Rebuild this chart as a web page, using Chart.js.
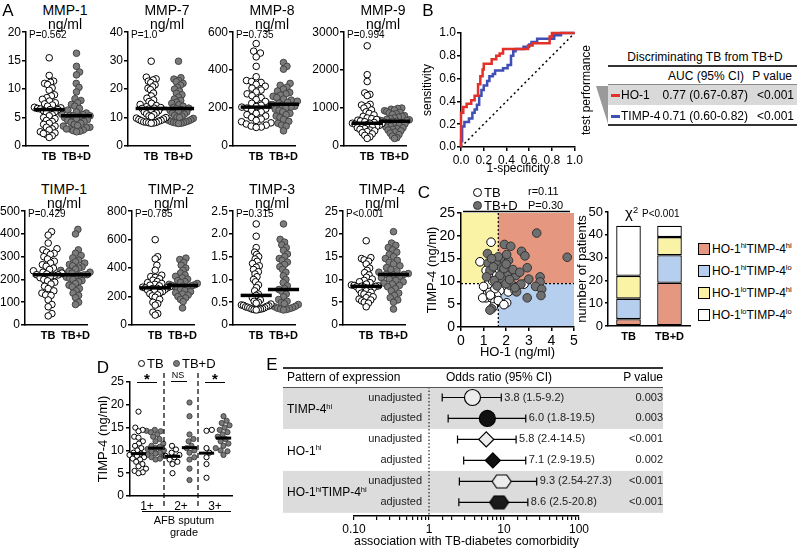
<!DOCTYPE html>
<html>
<head>
<meta charset="utf-8">
<script src="https://cdn.jsdelivr.net/npm/chart.js@4.4.1/dist/chart.umd.min.js"></script>
<style>
  html, body { margin: 0; padding: 0; background: #fff; }
  #page { position: relative; width: 797px; height: 549px; overflow: hidden;
          font-family: "Liberation Sans", Arial, Helvetica, sans-serif; color: #000; }
  #page canvas { position: absolute; z-index: 1; }
  .t { position: absolute; z-index: 2; white-space: nowrap; line-height: 1; }
  .bx { position: absolute; z-index: 2; box-sizing: border-box; }
  .sp { font-size: 0.62em; position: relative; top: -0.55em; }
</style>
</head>
<body>
<div id="page"></div>
<script>
// ---------- panel A: serum markers ----------
const aTitles = ['MMP-1', 'MMP-7', 'MMP-8', 'MMP-9', 'TIMP-1', 'TIMP-2', 'TIMP-3', 'TIMP-4'];
const aPvals = ['P=0.562', 'P=1.0', 'P=0.735', 'P=0.994', 'P=0.429', 'P=0.785', 'P=0.315', 'P<0.001'];
const aMax = [20, 40, 600, 3000, 500, 800, 2.5, 25];
const aStep = [5, 10, 200, 1000, 100, 200, 0.5, 5];
const aGroups = ['TB', 'TB+D'];
const aTB = [
  [15.5, 12.4, 11.4, 11.2, 11.0, 10.8, 10.2, 9.8, 9.0, 8.8, 8.5, 8.2, 7.9, 7.6, 7.4, 7.2, 7.0, 6.8, 6.7, 6.6, 6.5, 6.4, 6.4, 6.2, 6.0, 5.8, 5.5, 5.3, 5.0, 4.8, 4.5, 4.3, 4.0, 3.8, 3.5, 3.3, 3.0, 2.8, 2.5, 2.3, 2.0, 1.8, 1.5, 2.2],
  [29.8, 24.2, 23.6, 23.2, 22.8, 22.3, 21.5, 20.8, 20.3, 19.8, 18.6, 17.6, 16.8, 16.2, 15.6, 15.0, 14.6, 14.2, 13.8, 13.5, 13.3, 13.2, 13.0, 12.7, 12.4, 12.0, 11.6, 11.3, 11.0, 10.6, 10.3, 10.0, 9.8, 9.5, 9.3, 9.0, 8.9, 8.7, 8.5, 8.4, 8.3, 8.2, 8.1, 8.0],
  [540, 500, 490, 470, 420, 365, 345, 340, 335, 325, 315, 305, 295, 285, 275, 265, 255, 245, 235, 225, 215, 208, 205, 200, 195, 188, 180, 172, 165, 158, 150, 142, 135, 128, 122, 116, 110, 105, 100, 98],
  [2640, 1880, 1700, 1400, 1360, 1330, 1100, 1080, 1050, 1000, 950, 900, 860, 820, 780, 740, 720, 700, 680, 660, 640, 620, 600, 600, 590, 575, 560, 545, 530, 515, 500, 480, 460, 440, 420, 400, 380, 350, 320, 280, 240, 200],
  [410, 395, 360, 335, 330, 320, 315, 310, 300, 290, 280, 272, 265, 258, 250, 244, 238, 232, 228, 224, 221, 220, 218, 214, 208, 200, 194, 188, 180, 170, 160, 150, 140, 132, 130, 110, 90, 80, 50, 40],
  [600, 480, 465, 420, 385, 350, 340, 335, 325, 315, 305, 298, 292, 286, 280, 275, 270, 266, 262, 260, 258, 255, 250, 245, 240, 235, 228, 220, 212, 205, 195, 180, 160, 150, 140, 90, 80, 70],
  [2.22, 1.95, 1.7, 1.6, 1.55, 1.5, 1.45, 1.4, 1.35, 1.3, 1.27, 1.22, 1.17, 1.12, 1.06, 1.0, 0.95, 0.88, 0.82, 0.75, 0.68, 0.65, 0.6, 0.55, 0.52, 0.5, 0.48, 0.46, 0.44, 0.43, 0.42, 0.41, 0.4, 0.39, 0.38, 0.37, 0.36, 0.35, 0.35, 0.34, 0.34, 0.33],
  [18.5, 14.8, 14.6, 14.3, 14.0, 13.4, 12.5, 12.0, 11.5, 11.0, 10.5, 10.1, 9.8, 9.5, 9.3, 9.0, 8.8, 8.7, 8.6, 8.5, 8.5, 8.4, 8.3, 8.1, 8.0, 7.8, 7.5, 7.2, 7.0, 6.8, 6.5, 6.2, 6.0, 5.7, 5.5, 5.3, 5.0, 4.8, 4.0]
];
const aTBD = [
  [16.3, 14.0, 13.0, 12.5, 11.0, 10.3, 9.5, 8.3, 8.0, 7.6, 7.3, 7.0, 6.6, 6.3, 6.0, 5.8, 5.6, 5.5, 5.4, 5.3, 5.3, 5.2, 5.0, 4.8, 4.6, 4.5, 4.3, 4.2, 4.0, 3.8, 3.6, 3.5, 3.3, 3.2, 3.0, 3.0, 2.8, 2.7, 2.6, 2.5],
  [29.8, 24.0, 23.5, 23.0, 22.6, 22.0, 21.4, 20.6, 20.0, 19.3, 18.5, 18.0, 17.2, 16.5, 16.0, 15.4, 15.0, 14.5, 14.0, 13.6, 13.3, 13.1, 12.8, 12.5, 12.2, 11.9, 11.5, 11.2, 10.8, 10.5, 10.2, 10.0, 9.7, 9.4, 9.2, 9.0, 8.8, 8.6, 8.5, 8.3, 8.2, 8.1, 8.0, 7.9],
  [440, 420, 405, 330, 320, 310, 300, 290, 282, 275, 268, 262, 255, 248, 242, 236, 230, 225, 220, 218, 215, 210, 205, 200, 194, 188, 180, 172, 165, 158, 150, 140, 130, 120, 110, 105, 80],
  [1000, 990, 970, 950, 930, 910, 890, 870, 850, 830, 800, 780, 760, 740, 720, 700, 690, 680, 670, 660, 650, 640, 630, 620, 600, 580, 560, 540, 520, 500, 480, 460, 440, 420, 400, 370, 340, 300, 260, 220, 200],
  [420, 400, 330, 315, 305, 295, 285, 278, 272, 266, 260, 255, 250, 245, 240, 236, 232, 228, 224, 221, 220, 218, 215, 210, 205, 200, 195, 190, 182, 175, 168, 160, 150, 140, 130, 120, 100, 90],
  [470, 460, 440, 420, 400, 385, 365, 352, 342, 332, 322, 312, 305, 298, 292, 286, 282, 278, 276, 274, 270, 265, 258, 250, 242, 234, 226, 218, 210, 200, 190, 180, 165, 120],
  [2.22, 1.88, 1.82, 1.76, 1.7, 1.64, 1.56, 1.5, 1.46, 1.42, 1.38, 1.33, 1.28, 1.22, 1.16, 1.08, 1.0, 0.93, 0.86, 0.8, 0.78, 0.74, 0.68, 0.62, 0.56, 0.52, 0.49, 0.47, 0.45, 0.43, 0.41, 0.4, 0.38, 0.37, 0.36, 0.35, 0.34, 0.33],
  [20.5, 18.0, 17.5, 17.0, 16.5, 16.0, 15.5, 15.0, 14.6, 14.2, 13.8, 13.4, 13.0, 12.6, 12.2, 11.9, 11.6, 11.3, 11.1, 11.1, 11.0, 10.7, 10.4, 10.1, 9.8, 9.5, 9.2, 9.0, 8.7, 8.4, 8.0, 7.5, 7.0, 6.5, 6.0, 5.5, 5.0, 3.5]
];
const aMedTB = [6.4, 13.2, 205, 600, 221, 261, 0.65, 8.5];
const aMedTBD = [5.3, 13.2, 220, 650, 221, 278, 0.78, 11.1];

// ---------- panel B: ROC ----------
const rocHo1Fpr = [0, 0, 0.02, 0.05, 0.09, 0.12, 0.15, 0.17, 0.19, 0.2, 0.27, 0.31, 0.34, 0.37, 0.59, 0.63, 0.78, 0.8, 0.94, 1];
const rocHo1Tpr = [0, 0.2, 0.3, 0.35, 0.38, 0.41, 0.45, 0.55, 0.62, 0.68, 0.73, 0.77, 0.8, 0.82, 0.86, 0.89, 0.91, 0.97, 1.0, 1.0];
const rocTimp4Fpr = [0, 0.01, 0.03, 0.07, 0.1, 0.12, 0.14, 0.16, 0.18, 0.2, 0.23, 0.25, 0.28, 0.3, 0.37, 0.41, 0.44, 0.46, 0.48, 0.55, 0.6, 0.62, 0.67, 0.82, 0.88, 0.96, 1];
const rocTimp4Tpr = [0, 0.05, 0.18, 0.22, 0.25, 0.3, 0.33, 0.37, 0.45, 0.5, 0.54, 0.58, 0.62, 0.64, 0.67, 0.69, 0.72, 0.8, 0.84, 0.86, 0.88, 0.9, 0.92, 0.95, 0.98, 1.0, 1.0];
const rocMarkers = ['HO-1', 'TIMP-4'];
const rocAuc = ['0.77 (0.67-0.87)', '0.71 (0.60-0.82)'];
const rocP = ['<0.001', '<0.001'];

// ---------- panel C: HO-1 vs TIMP-4 ----------
const cHo1Cut = 1.65;
const cTimp4Cut = 9.5;
const cTbHo1 = [0.84, 1.33, 1.43, 1.72, 1.28, 1.25, 1.36, 1.18, 1.28, 1.25, 1.5, 1.36, 1.13, 1.8, 1.95, 2.17, 2.46, 2.09, 1.72, 1.58, 1.11, 1.36, 1.5, 2.02, 2.79, 2.39, 1.43, 1.17, 0.96, 1.65, 1.28, 1.87, 1.58, 1.11, 1.5, 1.72, 1.5, 1.2, 1.9, 1.4, 1.6, 1.3, 2.2, 1.0];
const cTbTimp4 = [14.3, 18.6, 14.9, 14.8, 13.9, 13.2, 12.1, 11.3, 10.6, 9.9, 9.5, 8.4, 8.4, 9.1, 8.8, 8.4, 8.8, 7.7, 8.0, 6.9, 6.4, 6.4, 5.5, 5.3, 9.4, 8.0, 4.4, 7.3, 6.4, 5.8, 7.7, 10.2, 11.3, 12.4, 13.5, 12.4, 8.4, 9.4, 4.9, 10.1, 10.4, 7.0, 9.6, 8.9];
const cTbdHo1 = [4.7, 3.35, 1.92, 2.2, 2.68, 2.83, 2.93, 3.5, 3.5, 3.3, 3.57, 3.54, 2.93, 2.65, 2.46, 2.43, 2.05, 1.87, 2.1, 1.72, 1.55, 1.17, 1.2, 1.28, 1.36, 1.28, 2.17, 1.8, 1.43, 1.65, 2.02, 1.72, 1.13, 2.39, 1.99, 1.47, 2.3, 1.9, 2.6, 1.6, 2.0, 2.15, 1.35, 3.0];
const cTbdTimp4 = [15.3, 20.6, 18.1, 17.7, 16.6, 15.6, 13.0, 11.0, 9.9, 8.9, 8.3, 6.9, 6.4, 9.4, 7.7, 11.3, 11.3, 14.6, 14.6, 13.3, 14.3, 16.1, 14.0, 12.4, 4.0, 3.7, 9.1, 10.6, 13.2, 15.4, 15.9, 11.3, 11.0, 8.6, 9.5, 10.2, 12.6, 12.8, 12.0, 9.0, 13.8, 10.4, 15.0, 10.5];
const cBarGroups = ['TB', 'TB+D'];
const cBarHo1 = ['hi', 'hi', 'lo', 'lo'];
const cBarTimp4 = ['hi', 'lo', 'hi', 'lo'];
const cBarCounts = [[3, 19], [9, 12], [10, 8], [22, 5]];
const cBarColors = ['#e5977f', '#b7cfee', '#faf3a6', '#ffffff'];

// ---------- panel D: TIMP-4 by sputum grade ----------
const dGrades = ['1+', '2+', '3+'];
const dTB = [
  [18.5, 15, 14.5, 14.2, 13, 12.8, 12, 11.5, 11, 10.5, 10, 9.5, 9.3, 9, 8.8, 8.5, 8.2, 8, 7.5, 7, 6.5, 6, 5.5, 5.2, 5],
  [11, 10.2, 9.5, 9, 8.8, 8.5, 8, 7.5, 7, 5],
  [14.5, 14.3, 10.5, 9.5, 8.5, 7, 4]
];
const dTBD = [
  [14.5, 14.3, 14.2, 14, 13.5, 13, 12.5, 12, 11.5, 11, 10.8, 10.5, 10.3, 10, 9.8, 9.5, 9.3, 9, 8.8, 8.5, 8.2, 8],
  [20.5, 17.5, 13.5, 12.5, 12, 11, 10.5, 10, 9.5, 8.5, 8, 6, 3.5],
  [17.5, 16.5, 16, 15.5, 15, 14.5, 14, 13.5, 13, 12.5, 12, 11.5, 11, 10.5, 10, 9.8, 9]
];
const dMedTB = [9.3, 8.7, 9.4];
const dMedTBD = [10.5, 10.6, 12.7];
const dSig = ['*', 'NS', '*'];

// ---------- panel E: odds ratios ----------
const eGroups = ['TIMP-4<span class="sp">hi</span>', 'HO-1<span class="sp">hi</span>', 'HO-1<span class="sp">hi</span>TIMP-4<span class="sp">hi</span>'];
const eModels = ['unadjusted', 'adjusted'];
const eOR = [3.8, 6.0, 5.8, 7.1, 9.3, 8.6];
const eLo = [1.5, 1.8, 2.4, 2.9, 2.54, 2.5];
const eHi = [9.2, 19.5, 14.5, 19.5, 27.3, 20.8];
const eP = ['0.003', '0.003', '<0.001', '0.002', '<0.001', '<0.001'];

// ---------- helpers ----------
const FONT = '"Liberation Sans", Arial, Helvetica, sans-serif';
Chart.defaults.font.family = FONT;
Chart.defaults.color = '#000';
Chart.defaults.animation = false;
Chart.defaults.events = [];
Chart.defaults.plugins.legend.display = false;
Chart.defaults.plugins.tooltip.enabled = false;

const page = document.getElementById('page');

function mkCanvas(x, y, w, h) {
  const c = document.createElement('canvas');
  c.width = w; c.height = h;
  c.style.left = x + 'px'; c.style.top = y + 'px';
  c.style.width = w + 'px'; c.style.height = h + 'px';
  page.appendChild(c);
  return c;
}

function txt(html, x, y, o = {}) {
  const d = document.createElement('div');
  d.className = 't';
  d.innerHTML = html;
  d.style.left = x + 'px';
  d.style.top = y + 'px';
  d.style.fontSize = (o.size || 12) + 'px';
  if (o.bold) d.style.fontWeight = 'bold';
  if (o.color) d.style.color = o.color;
  const ax = o.align === 'right' ? '-100%' : o.align === 'left' ? '0' : '-50%';
  d.style.transform = `translate(${ax}, -50%)` + (o.rot ? ' rotate(-90deg)' : '');
  page.appendChild(d);
  return d;
}

function box(x, y, w, h, css) {
  const d = document.createElement('div');
  d.className = 'bx';
  d.style.cssText += `left:${x}px;top:${y}px;width:${w}px;height:${h}px;` + (css || '');
  page.appendChild(d);
  return d;
}

// deterministic beeswarm offsets (in data units along x)
function swarm(vals, center, pxY, pxX, d, cap) {
  const order = vals.map((v, i) => i).sort((a, b) => vals[a] - vals[b]);
  const placed = [], offs = [];
  order.forEach(i => {
    const y = vals[i] * pxY;
    const near = placed.filter(p => Math.abs(p.y - y) < d);
    const cands = [0];
    near.forEach(p => {
      const dx = Math.sqrt(d * d - (p.y - y) ** 2);
      cands.push(p.x + dx, p.x - dx);
    });
    cands.sort((a, b) => Math.abs(a) - Math.abs(b));
    const x = cands.find(c => near.every(p => (p.x - c) ** 2 + (p.y - y) ** 2 >= d * d - 0.01));
    placed.push({x, y});
    offs[i] = x;
  });
  const m = Math.max(...offs.map(Math.abs));
  const k = m > cap ? cap / m : 1;
  return vals.map((v, i) => ({x: center + offs[i] * k / pxX, y: v}));
}

function medLine(m, c, w, lw) {
  return {data: [{x: c - w, y: m}, {x: c + w, y: m}], showLine: true, borderColor: '#000',
          borderWidth: lw, pointRadius: 0, order: 0, clip: false};
}

const blackGrid = {drawOnChartArea: false, tickLength: 4, color: '#000', lineWidth: 1.5};
const blackBorder = {color: '#000', width: 1.5};

// ---------- panel A ----------
function dotPlot(i, axisX, yTop) {
  const plotH = 114, plotW = 68, padTop = 8;
  const pxY = plotH / aMax[i], pxX = plotW / 2.3;
  const tb = swarm(aTB[i], 0, pxY, pxX, 6.6, 16);
  const tbd = swarm(aTBD[i], 1, pxY, pxX, 6.6, 16);
  const cv = mkCanvas(axisX - 36, yTop - padTop, 36 + plotW + 2, padTop + plotH + 22);
  new Chart(cv, {
    type: 'scatter',
    data: {datasets: [
      medLine(aMedTB[i], 0, 0.57, 3.5),
      medLine(aMedTBD[i], 1, 0.57, 3.5),
      {data: tb, pointRadius: 3.3, backgroundColor: '#fff', borderColor: '#000', borderWidth: 1, order: 1, clip: false},
      {data: tbd, pointRadius: 3.3, backgroundColor: '#7c7c7c', borderColor: '#444', borderWidth: 1, order: 1, clip: false}
    ]},
    options: {
      responsive: false,
      layout: {padding: {top: padTop, right: 2, left: 0, bottom: 0}},
      scales: {
        x: {type: 'linear', min: -0.85, max: 1.45,
            afterBuildTicks: s => { s.ticks = aGroups.map((g, k) => ({value: k})); },
            afterFit: s => { s.height = 22; },
            ticks: {callback: v => aGroups[v], font: {size: 11, weight: 'bold'}, padding: 4, autoSkip: false, maxRotation: 0},
            grid: {display: false, drawTicks: false},
            border: blackBorder},
        y: {min: 0, max: aMax[i],
            afterFit: s => { s.width = 36; },
            ticks: {stepSize: aStep[i], font: {size: 12}, padding: 1,
                    callback: v => aStep[i] < 1 ? (v === 0 ? '0' : v.toFixed(1)) : v},
            grid: blackGrid,
            border: blackBorder}
      }
    }
  });
  txt(aTitles[i], axisX + 39, yTop - 22, {size: 14});
  txt('ng/ml', axisX + 39, yTop - 8, {size: 14});
  txt(aPvals[i], axisX + 3, yTop + 3, {size: 10, align: 'left'});
}

[26, 128, 233, 344].forEach((x, k) => dotPlot(k, x, 32));
[25, 132, 233, 343].forEach((x, k) => dotPlot(k + 4, x, 211));

// ---------- panel B ----------
const xy = (xs, ys) => xs.map((x, i) => ({x, y: ys[i]}));
new Chart(mkCanvas(400, 20, 185, 160), {
  type: 'scatter',
  data: {datasets: [
    {data: xy(rocHo1Fpr, rocHo1Tpr), showLine: true, stepped: 'after', borderColor: '#e2302a', borderWidth: 2.5, pointRadius: 0, clip: false},
    {data: xy(rocTimp4Fpr, rocTimp4Tpr), showLine: true, stepped: 'after', borderColor: '#3f4fb4', borderWidth: 2.5, pointRadius: 0, clip: false},
    {data: [{x: 0, y: 0}, {x: 1, y: 1}], showLine: true, borderColor: '#000', borderWidth: 1.5, borderDash: [2, 3], pointRadius: 0}
  ]},
  options: {
    responsive: false,
    layout: {padding: {left: 16, top: 13, right: 8, bottom: 0}},
    scales: {
      x: {type: 'linear', min: 0, max: 1, afterFit: s => { s.height = 33; },
          ticks: {stepSize: 0.2, callback: v => v.toFixed(1), font: {size: 12}, padding: 2, autoSkip: false, maxRotation: 0},
          grid: blackGrid, border: blackBorder,
          title: {display: true, text: '1-specificity', font: {size: 12}, padding: {top: 2, bottom: 4}}},
      y: {min: 0, max: 1, afterFit: s => { s.width = 45; },
          ticks: {stepSize: 0.2, callback: v => v.toFixed(1), font: {size: 12}, padding: 1},
          grid: blackGrid, border: blackBorder,
          title: {display: true, text: 'sensitivity', font: {size: 12}, padding: {top: 4, bottom: 0}}}
    }
  }
});

txt('test performance', 586, 90, {size: 12, rot: true});
box(596, 86, 12, 38, 'background:#9a9a9a;clip-path:polygon(0 0,100% 0,100% 100%);');
txt('Discriminating TB from TB+D', 705, 57, {size: 12});
box(608, 65, 189, 1.5, 'background:#333;');
txt('AUC (95% CI)', 668, 76, {size: 12, align: 'left'});
txt('P value', 792, 76, {size: 12, align: 'right'});
box(608, 84, 189, 21, 'background:#d9d9d9;border-top:1px solid #8a8a8a;');
box(608, 124, 189, 1.5, 'background:#333;');
['#e2302a', '#3f4fb4'].forEach((col, k) => {
  const y = 95 + k * 21;
  box(611, y - 1.5, 9, 3, 'background:' + col + ';');
  txt(rocMarkers[k], 621, y, {size: 12, align: 'left'});
  txt(rocAuc[k], 748, y, {size: 12, align: 'right'});
  txt(rocP[k], 757, y, {size: 12, align: 'left'});
});

// ---------- panel C: scatter ----------
const quadPlugin = {
  id: 'quad',
  beforeDraw(chart) {
    const {ctx, chartArea: a, scales: {x, y}} = chart;
    const cx = x.getPixelForValue(cHo1Cut), cy = y.getPixelForValue(cTimp4Cut);
    ctx.save();
    ctx.fillStyle = cBarColors[2]; ctx.fillRect(a.left, a.top, cx - a.left, cy - a.top);
    ctx.fillStyle = cBarColors[0]; ctx.fillRect(cx, a.top, a.right - cx, cy - a.top);
    ctx.fillStyle = cBarColors[1]; ctx.fillRect(cx, cy, a.right - cx, a.bottom - cy);
    ctx.strokeStyle = '#000';
    ctx.setLineDash([2, 2]); ctx.lineWidth = 1.2;
    ctx.beginPath();
    ctx.moveTo(cx, a.top); ctx.lineTo(cx, a.bottom);
    ctx.moveTo(a.left, cy); ctx.lineTo(a.right, cy);
    ctx.stroke();
    ctx.setLineDash([]); ctx.lineWidth = 1.5;
    ctx.beginPath(); ctx.moveTo(a.left + 2, a.top - 1.5); ctx.lineTo(a.right - 4, a.top - 1.5); ctx.stroke();
    ctx.restore();
  }
};

new Chart(mkCanvas(405, 200, 175, 160), {
  type: 'scatter',
  data: {datasets: [
    {data: xy(cTbdHo1, cTbdTimp4), pointRadius: 4.3, backgroundColor: '#6f6f6f', borderColor: '#333', borderWidth: 1, clip: false},
    {data: xy(cTbHo1, cTbTimp4), pointRadius: 4.3, backgroundColor: '#fff', borderColor: '#000', borderWidth: 1, clip: false}
  ]},
  options: {
    responsive: false,
    layout: {padding: {left: 16, top: 13, right: 6, bottom: 0}},
    scales: {
      x: {type: 'linear', min: 0, max: 5, afterFit: s => { s.height = 33; },
          ticks: {stepSize: 1, font: {size: 14}, padding: 2, maxRotation: 0},
          grid: blackGrid, border: blackBorder,
          title: {display: true, text: 'HO-1 (ng/ml)', font: {size: 13}, padding: {top: 0, bottom: 0}}},
      y: {min: 0, max: 25, afterFit: s => { s.width = 40; },
          ticks: {stepSize: 5, font: {size: 14}, padding: 2},
          grid: blackGrid, border: blackBorder,
          title: {display: true, text: 'TIMP-4 (ng/ml)', font: {size: 13}, padding: {top: 4, bottom: 0}}}
    }
  },
  plugins: [quadPlugin]
});

function dot(cx, cy, r, fill, stroke) {
  box(cx - r, cy - r, 2 * r, 2 * r, `border:1px solid ${stroke};border-radius:50%;background:${fill};`);
}
dot(477, 192, 4.5, '#fff', '#000');
txt('TB', 484, 192, {size: 13, align: 'left'});
dot(477, 205, 4.5, '#6f6f6f', '#333');
txt('TB+D', 484, 205, {size: 13, align: 'left'});
txt('r=0.11', 528, 191, {size: 11, align: 'left'});
txt('P=0.30', 528, 205, {size: 11, align: 'left'});

// ---------- panel C: stacked bars ----------
new Chart(mkCanvas(570, 200, 125, 150), {
  type: 'bar',
  data: {
    labels: cBarGroups,
    datasets: cBarCounts.map((vals, k) => ({
      data: vals, backgroundColor: cBarColors[k], borderColor: '#000', borderWidth: 1.3,
      borderSkipped: false, barPercentage: 0.6, categoryPercentage: 1
    }))
  },
  options: {
    responsive: false,
    layout: {padding: {left: 1, top: 12, right: 5, bottom: 0}},
    scales: {
      x: {stacked: true, afterFit: s => { s.height = 24; },
          ticks: {font: {size: 11, weight: 'bold'}, padding: 4, maxRotation: 0},
          grid: {display: false, drawTicks: false}, border: blackBorder},
      y: {stacked: true, min: 0, max: 50, afterFit: s => { s.width = 37; },
          ticks: {stepSize: 10, font: {size: 13}, padding: 2},
          grid: {drawOnChartArea: false, tickLength: 3, color: '#000', lineWidth: 1.5}, border: blackBorder,
          title: {display: true, text: 'number of patients', font: {size: 13}, padding: {top: 4, bottom: 0}}}
    }
  }
});
txt('χ<span class="sp">2</span>', 625, 213, {size: 15, align: 'left'});
txt('P&lt;0.001', 642, 214, {size: 10, align: 'left'});
cBarColors.forEach((col, k) => {
  const y = 248.5 + k * 22;
  box(698, y - 6, 12, 12, `background:${col};border:1.3px solid #000;`);
  txt(`HO-1<span class="sp">${cBarHo1[k]}</span>TIMP-4<span class="sp">${cBarTimp4[k]}</span>`, 712, y, {size: 12, align: 'left'});
});

// ---------- panel D ----------
const sepPlugin = {
  id: 'sep',
  afterDraw(chart) {
    const {ctx, chartArea: a, scales: {x}} = chart;
    ctx.save();
    ctx.strokeStyle = '#000'; ctx.lineWidth = 1.2; ctx.setLineDash([5, 3]);
    [2, 4].forEach(v => {
      const px = x.getPixelForValue(v);
      ctx.beginPath(); ctx.moveTo(px, a.top - 9); ctx.lineTo(px, a.bottom + 11); ctx.stroke();
    });
    ctx.restore();
  }
};
{
  const pxY = 114 / 25, pxX = 102 / 6;
  const tbPts = [], tbdPts = [], meds = [];
  dGrades.forEach((g, k) => {
    tbPts.push(...swarm(dTB[k], 2 * k + 0.5, pxY, pxX, 5.4, 9));
    tbdPts.push(...swarm(dTBD[k], 2 * k + 1.5, pxY, pxX, 5.4, 9));
    meds.push(medLine(dMedTB[k], 2 * k + 0.5, 0.45, 3), medLine(dMedTBD[k], 2 * k + 1.5, 0.45, 3));
  });
  new Chart(mkCanvas(95, 360, 145, 155), {
    type: 'scatter',
    data: {datasets: [
      ...meds,
      {data: tbPts, pointRadius: 2.6, backgroundColor: '#fff', borderColor: '#000', borderWidth: 1, order: 1, clip: false},
      {data: tbdPts, pointRadius: 2.6, backgroundColor: '#7a7a7a', borderColor: '#444', borderWidth: 1, order: 1, clip: false}
    ]},
    options: {
      responsive: false,
      layout: {padding: {left: 0, top: 22, right: 8, bottom: 0}},
      scales: {
        x: {type: 'linear', min: 0, max: 6,
            afterBuildTicks: s => { s.ticks = dGrades.map((g, k) => ({value: 2 * k + 1})); },
            afterFit: s => { s.height = 19; },
            ticks: {callback: v => dGrades[(v - 1) / 2], font: {size: 12}, padding: 3, autoSkip: false, maxRotation: 0},
            grid: {display: false, drawTicks: false}, border: blackBorder},
        y: {min: 0, max: 25, afterFit: s => { s.width = 35; },
            ticks: {stepSize: 5, font: {size: 12}, padding: 2},
            grid: blackGrid, border: blackBorder,
            title: {display: true, text: 'TIMP-4 (ng/ml)', font: {size: 13}, padding: {top: 1, bottom: 0}}}
      }
    },
    plugins: [sepPlugin]
  });
  dSig.forEach((s, k) => {
    const cx = 130 + (2 * k + 1) * pxX;
    if (s === '*') {
      txt('*', cx, 378, {size: 15, bold: true});
      box(cx - 10, 382, 20, 1.3, 'background:#000;');
    } else {
      txt(s, cx - 3, 375, {size: 9});
      box(cx - 10, 381, 16, 1.3, 'background:#000;');
    }
  });
}
dot(141, 363, 3.5, '#fff', '#000');
txt('TB', 147, 363, {size: 13, align: 'left'});
dot(176, 363, 3.5, '#7a7a7a', '#444');
txt('TB+D', 182, 363, {size: 13, align: 'left'});
box(142, 511, 89, 1.3, 'background:#000;');
txt('AFB sputum', 184, 520, {size: 11});
txt('grade', 184, 532, {size: 11});

// ---------- panel E ----------
function hexagon(fill) {
  const c = document.createElement('canvas');
  c.width = 21; c.height = 15;
  const g = c.getContext('2d');
  g.beginPath();
  g.moveTo(1, 7.5); g.lineTo(5.5, 1); g.lineTo(15.5, 1); g.lineTo(20, 7.5); g.lineTo(15.5, 14); g.lineTo(5.5, 14);
  g.closePath();
  g.fillStyle = fill; g.fill();
  g.strokeStyle = '#000'; g.lineWidth = 1.2; g.stroke();
  return c;
}
const forestPlugin = {
  id: 'forest',
  beforeDraw(chart) {
    const {ctx, scales: {y}} = chart;
    ctx.save();
    ctx.fillStyle = '#dcdcdc';
    [0, 2].forEach(g => {
      const t = y.getPixelForValue(2 * g + 0.5), b = y.getPixelForValue(2 * g + 2.5);
      ctx.fillRect(33, t, 380, b - t);
    });
    ctx.restore();
  },
  beforeDatasetsDraw(chart) {
    const {ctx, chartArea: a, scales: {x, y}} = chart;
    ctx.save();
    ctx.strokeStyle = '#000';
    const one = x.getPixelForValue(1);
    ctx.setLineDash([1.5, 2]); ctx.lineWidth = 1;
    ctx.beginPath(); ctx.moveTo(one, a.top); ctx.lineTo(one, a.bottom); ctx.stroke();
    ctx.setLineDash([]); ctx.lineWidth = 1.2;
    eOR.forEach((v, k) => {
      const yy = y.getPixelForValue(k + 1), x0 = x.getPixelForValue(eLo[k]), x1 = x.getPixelForValue(eHi[k]);
      ctx.beginPath();
      ctx.moveTo(x0, yy); ctx.lineTo(x1, yy);
      ctx.moveTo(x0, yy - 4); ctx.lineTo(x0, yy + 4);
      ctx.moveTo(x1, yy - 4); ctx.lineTo(x1, yy + 4);
      ctx.stroke();
    });
    ctx.restore();
  },
  afterDatasetsDraw(chart) {
    const {ctx, scales: {x, y}} = chart;
    ctx.save();
    ctx.font = '11px ' + FONT;
    ctx.fillStyle = '#222';
    ctx.textBaseline = 'middle';
    eOR.forEach((v, k) => {
      const yy = y.getPixelForValue(k + 1);
      ctx.textAlign = 'right';
      ctx.fillText(eModels[k % 2], 172, yy);
      ctx.fillText(eP[k], 413, yy);
      ctx.textAlign = 'left';
      ctx.fillText(`${v.toFixed(1)} (${eLo[k]}-${eHi[k]})`, x.getPixelForValue(eHi[k]) + 3, yy);
    });
    ctx.restore();
  }
};
new Chart(mkCanvas(250, 355, 420, 194), {
  type: 'scatter',
  data: {datasets: [{
    data: eOR.map((v, k) => ({x: v, y: k + 1})),
    pointStyle: ['circle', 'circle', 'rectRot', 'rectRot', hexagon('#ececec'), hexagon('#1a1a1a')],
    pointRadius: [8, 8, 7.5, 7.5, 10, 10],
    backgroundColor: ['#ececec', '#111', '#ececec', '#111', '#ececec', '#111'],
    borderColor: '#000', borderWidth: 1.2, clip: false
  }]},
  options: {
    responsive: false,
    layout: {padding: {left: 104, top: 32, right: 91, bottom: 0}},
    scales: {
      x: {type: 'logarithmic', min: 0.1, max: 100, afterFit: s => { s.height = 33; },
          ticks: {autoSkip: false, maxRotation: 0, font: {size: 12}, padding: 2,
                  callback: v => {
                    const l = Math.log10(v);
                    return Math.abs(l - Math.round(l)) < 1e-9 ? (v < 1 ? v.toFixed(2) : String(Math.round(v))) : '';
                  }},
          grid: {drawOnChartArea: false, tickLength: 4, color: '#000', lineWidth: 1.2}, border: blackBorder,
          title: {display: true, text: 'association with TB-diabetes comorbidity', font: {size: 13}, padding: {top: 2, bottom: 0}}},
      y: {display: false, min: 0.5, max: 6.65, reverse: true}
    }
  },
  plugins: [forestPlugin]
});
box(283, 366.5, 380, 2, 'background:#333;');
txt('Pattern of expression', 287, 377, {size: 12, align: 'left'});
txt('Odds ratio (95% CI)', 446, 377, {size: 12, align: 'left'});
txt('P value', 663, 377, {size: 12, align: 'right'});
box(283, 386.5, 380, 1, 'background:#555;');
eGroups.forEach((g, k) => txt(g, 287, 409 + k * 41.5, {size: 12, align: 'left'}));

// ---------- panel letters ----------
txt('A', 8, 10, {size: 17});
txt('B', 428, 10, {size: 17});
txt('C', 424, 192, {size: 17});
txt('D', 103, 367, {size: 17});
txt('E', 272, 364, {size: 17});
</script>
</body>
</html>
